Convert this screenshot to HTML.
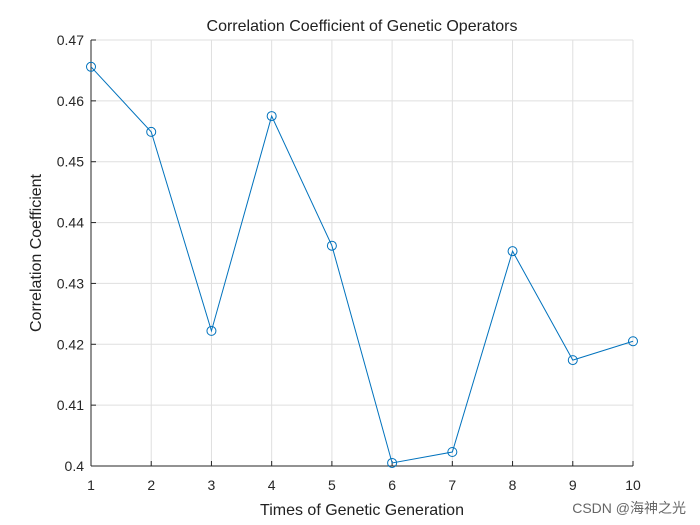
<!DOCTYPE html>
<html><head><meta charset="utf-8"><style>
body{margin:0;background:#fff;}
svg{display:block;font-family:"Liberation Sans","Noto Sans CJK SC",sans-serif;}
</style></head><body>
<svg id="chart" width="700" height="525" xmlns="http://www.w3.org/2000/svg">
<rect width="700" height="525" fill="#fff"/>
<g id="grid"></g>
<g id="axes"></g>
<g id="series"></g>
<text x="362" y="31" text-anchor="middle" font-size="16" fill="#212121">Correlation Coefficient of Genetic Operators</text>
<text x="362" y="515" text-anchor="middle" font-size="16" fill="#212121">Times of Genetic Generation</text>
<text transform="translate(41,253) rotate(-90)" text-anchor="middle" font-size="16" fill="#212121">Correlation Coefficient</text>
<text x="686" y="513" text-anchor="end" font-size="14" fill="#666">CSDN @海神之光</text>
</svg>
<script>
const categories=[1,2,3,4,5,6,7,8,9,10];
const values=[0.4656,0.4549,0.4222,0.4575,0.4362,0.4005,0.4023,0.4353,0.4174,0.4205];
const yTicks=[0.4,0.41,0.42,0.43,0.44,0.45,0.46,0.47];
const yTickLabels=["0.4","0.41","0.42","0.43","0.44","0.45","0.46","0.47"];
const X0=91,X1=633,Y0=466,Y1=40;
const xs=v=>X0+(v-1)/9*(X1-X0);
const ys=v=>Y0-(v-0.4)/0.07*(Y0-Y1);
const NS="http://www.w3.org/2000/svg";
function mk(tag,attrs,parent){const e=document.createElementNS(NS,tag);for(const k in attrs)e.setAttribute(k,attrs[k]);parent.appendChild(e);return e;}
const grid=document.getElementById('grid'),axes=document.getElementById('axes'),series=document.getElementById('series');
categories.forEach(c=>{
 const g=mk('line',{x1:xs(c),x2:xs(c),y1:Y1,y2:Y0,stroke:'#dfdfdf','stroke-width':1},grid);
 
 
 mk('line',{x1:xs(c),x2:xs(c),y1:Y0,y2:Y0-5,stroke:'#262626'},axes);
 const t=mk('text',{x:xs(c),y:Y0+24,'text-anchor':'middle','font-size':14,fill:'#262626'},axes);
 t.textContent=c;
 
 
});
yTicks.forEach((v,i)=>{
 const g=mk('line',{x1:X0,x2:X1,y1:ys(v),y2:ys(v),stroke:'#dfdfdf','stroke-width':1},grid);
 
 
 mk('line',{x1:X0,x2:X0+5,y1:ys(v),y2:ys(v),stroke:'#262626'},axes);
 const t=mk('text',{x:X0-7,y:ys(v)+5,'text-anchor':'end','font-size':14,fill:'#262626'},axes);
 t.textContent=yTickLabels[i];
 
 
});
const xa=mk('line',{x1:X0,x2:X1,y1:Y0,y2:Y0,stroke:'#262626'},axes);


const ya=mk('line',{x1:X0,x2:X0,y1:Y1,y2:Y0,stroke:'#262626'},axes);


const pts=categories.map((c,i)=>xs(c)+','+ys(values[i])).join(' ');
const line=mk('polyline',{points:pts,fill:'none',stroke:'#0072BD','stroke-width':1},series);


categories.forEach((c,i)=>{
 const m=mk('circle',{cx:xs(c),cy:ys(values[i]),r:4.5,fill:'none',stroke:'#0072BD','stroke-width':1},series);
 
 
});
</script>
</body></html>
